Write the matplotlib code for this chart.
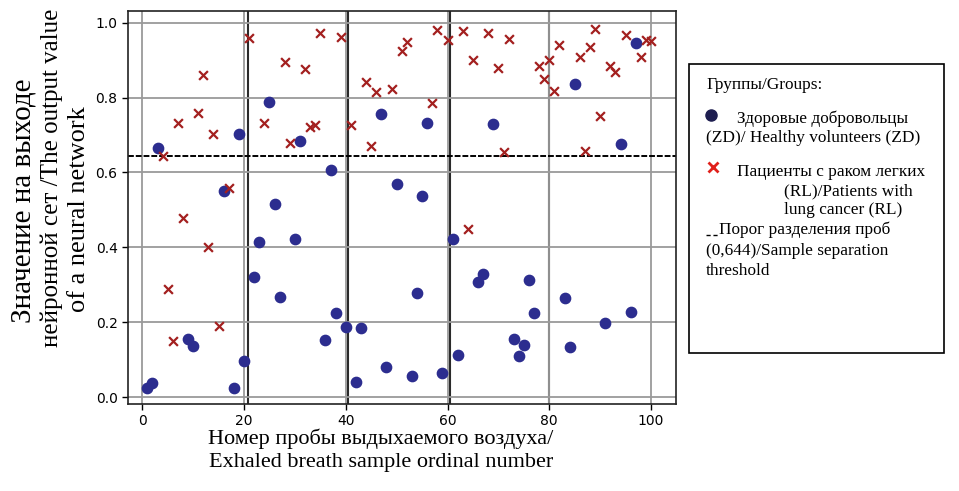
import matplotlib
matplotlib.use('Agg')
import matplotlib.pyplot as plt
from matplotlib.lines import Line2D
from matplotlib.patches import Rectangle

# healthy volunteers (ZD)
zd_samples = [1, 2, 3, 9, 10, 16, 18, 19, 20, 22, 23, 25, 26, 27, 30, 31, 36, 37, 38, 40,
              42, 43, 47, 48, 50, 53, 54, 55, 56, 59, 61, 62, 66, 67, 69, 73, 74, 75, 76, 77,
              83, 84, 85, 91, 94, 96, 97]
zd_values = [0.025, 0.037, 0.665, 0.156, 0.137, 0.551, 0.025, 0.704, 0.098, 0.321, 0.415,
             0.788, 0.516, 0.268, 0.422, 0.684, 0.154, 0.607, 0.226, 0.188, 0.042, 0.185,
             0.757, 0.080, 0.569, 0.058, 0.279, 0.538, 0.732, 0.064, 0.423, 0.112, 0.308,
             0.329, 0.729, 0.156, 0.109, 0.139, 0.312, 0.224, 0.266, 0.134, 0.835, 0.198,
             0.677, 0.228, 0.945]

# lung cancer patients (RL)
rl_samples = [4, 5, 6, 7, 8, 11, 12, 13, 14, 15, 17, 21, 24, 28, 29, 32, 33, 34, 35, 39,
              41, 44, 45, 46, 49, 51, 52, 57, 58, 60, 63, 64, 65, 68, 70, 71, 72, 78, 79, 80,
              81, 82, 86, 87, 88, 89, 90, 92, 93, 95, 98, 99, 100]
rl_values = [0.643, 0.288, 0.149, 0.732, 0.478, 0.760, 0.860, 0.401, 0.704, 0.190, 0.558,
             0.958, 0.732, 0.895, 0.679, 0.875, 0.721, 0.728, 0.971, 0.962, 0.726, 0.841,
             0.671, 0.814, 0.824, 0.924, 0.949, 0.786, 0.980, 0.953, 0.978, 0.448, 0.900,
             0.971, 0.879, 0.654, 0.955, 0.884, 0.850, 0.900, 0.817, 0.939, 0.908, 0.656,
             0.935, 0.982, 0.752, 0.884, 0.869, 0.967, 0.908, 0.953, 0.951]

separators = [20.7, 40.5, 60.4, 80.0]
threshold = 0.644

SERIF = 'Liberation Serif'
W, H = 959, 491


def fx(px):
    return px / W


def fy(py):
    return 1 - py / H


fig = plt.figure(figsize=(9.59, 4.91), dpi=100)
ax = fig.add_axes([fx(128), fy(404), (676 - 128) / W, (404 - 11) / H])

ax.grid(True, color='#9a9a9a', linewidth=1.3, zorder=0)
for s in separators:
    ax.axvline(s, color='#2a2a2a', linewidth=1.5, zorder=1)
ax.axhline(threshold, color='black', linewidth=1.4, dashes=(3, 1), zorder=2)

ax.scatter(zd_samples, zd_values, s=55, color='#2c2d8f', marker='o', zorder=3)
ax.scatter(rl_samples, rl_values, s=40, color='#a3201f', marker='x', linewidths=1.6, zorder=3)

ax.set_xlim(-2.8, 104.9)
ax.set_ylim(-0.018, 1.031)
ax.set_xticks([0, 20, 40, 60, 80, 100])
ax.set_yticks([0.0, 0.2, 0.4, 0.6, 0.8, 1.0])
ax.tick_params(direction='out', length=4, width=1, labelsize=10)
for sp in ax.spines.values():
    sp.set_color('#222222')
    sp.set_linewidth(1.2)

ax.set_xlabel('Номер пробы выдыхаемого воздуха/\nExhaled breath sample ordinal number',
              family=SERIF, fontsize=16, linespacing=1.27, va='center')
ax.xaxis.set_label_coords((381 - 128) / 548, (404 - 450) / 393)

# y label: three lines placed one by one, like in the source figure
ylab = dict(family=SERIF, rotation=90, ha='center', va='center')
fig.text(fx(24), fy(201), 'Значение на выходе', fontsize=21, **ylab)
fig.text(fx(52), fy(178), 'нейронной сет /The output value', fontsize=18, **ylab)
fig.text(fx(79), fy(209), 'of a neural network', fontsize=19, **ylab)

# legend box drawn by hand
fig.add_artist(Rectangle((fx(689), fy(353)), (944 - 689) / W, (353 - 64) / H,
                         transform=fig.transFigure, fill=False, edgecolor='black', linewidth=1.2))
lg = dict(family=SERIF, fontsize=12.4, va='center', ha='left')
fig.text(fx(706), fy(85), 'Группы/Groups:', **lg)
fig.add_artist(Line2D([fx(711)], [fy(115)], marker='o', markersize=8, color='#1e1e50',
                      linestyle='none', transform=fig.transFigure))
fig.text(fx(737), fy(119), 'Здоровые добровольцы', **lg)
fig.text(fx(706), fy(138), '(ZD)/ Healthy volunteers (ZD)', **lg)
fig.add_artist(Line2D([fx(713)], [fy(167)], marker='x', markersize=7.5, markeredgewidth=2,
                      color='#e0201b', linestyle='none', transform=fig.transFigure))
fig.text(fx(737), fy(172), 'Пациенты с раком легких', **lg)
fig.text(fx(784), fy(191), '(RL)/Patients with', **lg)
fig.text(fx(784), fy(210), 'lung cancer (RL)', **lg)
fig.add_artist(Line2D([fx(706), fx(718)], [fy(235), fy(235)], color='black', linewidth=1,
                      dashes=(3, 2), transform=fig.transFigure))
fig.text(fx(719), fy(230), 'Порог разделения проб', **lg)
fig.text(fx(706), fy(251), '(0,644)/Sample separation', **lg)
fig.text(fx(706), fy(271), 'threshold', **lg)

fig.savefig('out.png', dpi=100)
